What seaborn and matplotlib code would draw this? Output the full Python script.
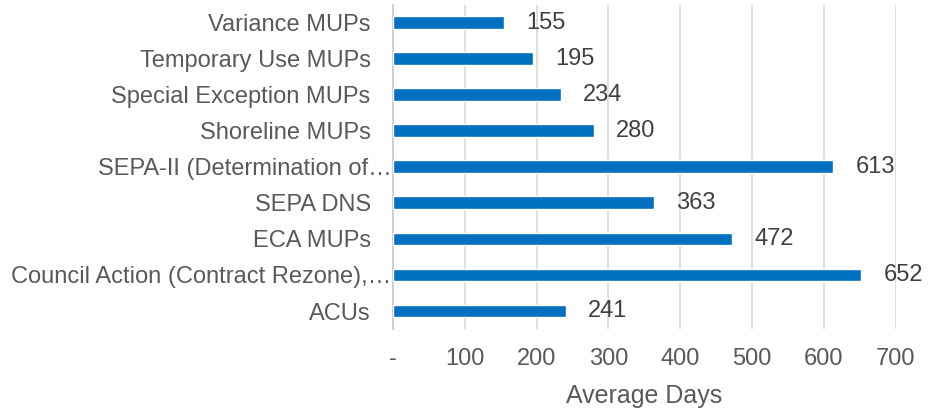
import matplotlib
matplotlib.use("Agg")
import matplotlib.pyplot as plt
import matplotlib.transforms as mtransforms
import seaborn as sns
import pandas as pd

categories = ["Variance MUPs", "Temporary Use MUPs", "Special Exception MUPs",
              "Shoreline MUPs", "SEPA-II (Determination of\u2026", "SEPA DNS",
              "ECA MUPs", "Council Action (Contract Rezone),\u2026", "ACUs"]
days = [155, 195, 234, 280, 613, 363, 472, 652, 241]
x_ticks = [0, 100, 200, 300, 400, 500, 600, 700]
x_tick_labels = ["-", "100", "200", "300", "400", "500", "600", "700"]

df = pd.DataFrame({"category": categories, "days": days})

sns.set_theme(style="white")
plt.rcParams["font.family"] = ["Liberation Sans", "DejaVu Sans"]

fig = plt.figure(figsize=(9.29, 4.11), dpi=100)
ax = fig.add_axes([0.423, 0.1995, 0.541, 0.7885])

sns.barplot(data=df, x="days", y="category", orient="h", order=categories,
            color="#0070C0", saturation=1, width=0.36, ax=ax, zorder=3)

ax.set_xlim(0, 700)
ax.set_xticks(x_ticks)
ax.set_xticklabels(x_tick_labels)
ax.grid(axis="x", color="#D9D9D9", linewidth=1.2, zorder=0)
ax.set_axisbelow(True)
for s in ["top", "right", "bottom"]:
    ax.spines[s].set_visible(False)
ax.spines["left"].set_color("#D0D0D0")
ax.spines["left"].set_linewidth(1.5)

ax.tick_params(axis="both", length=0, labelsize=17, colors="#595959")
ax.tick_params(axis="y", pad=16)
ax.tick_params(axis="x", pad=14)
ax.set_ylabel("")
ax.set_xlabel("Average Days", fontsize=18, color="#595959", labelpad=10)

# truncated labels run up to the axis like in Excel
shift = mtransforms.ScaledTranslation(0.21, 0, fig.dpi_scale_trans)
for tick in ax.yaxis.get_major_ticks():
    if tick.label1.get_text().endswith("\u2026"):
        tick.label1.set_transform(tick.label1.get_transform() + shift)

for cont in ax.containers:
    ax.bar_label(cont, labels=[str(v) for v in days], padding=16,
                 fontsize=17, color="#404040")

fig.savefig("out.png", dpi=100)
